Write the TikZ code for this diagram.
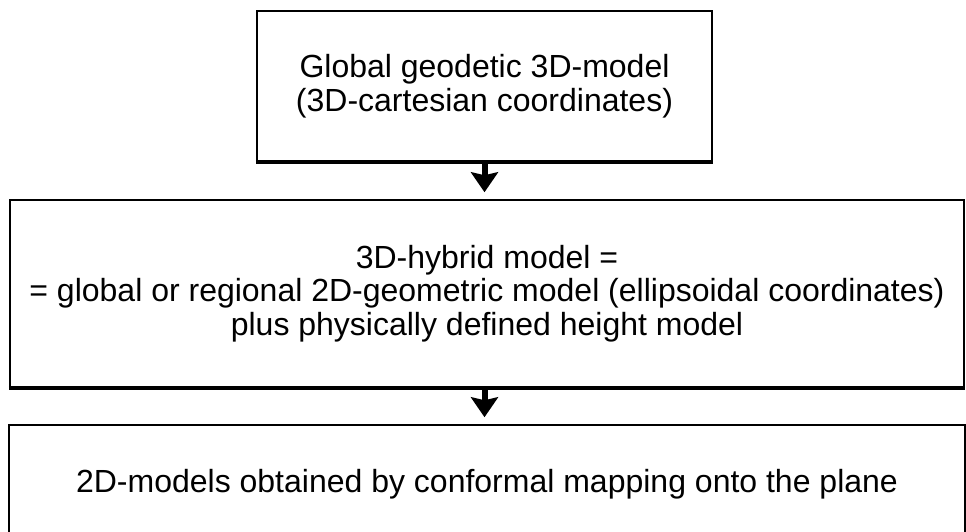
\documentclass[tikz,border=0pt]{standalone}
\usepackage{fontspec}
\setmainfont{Liberation Sans}
\usetikzlibrary{arrows.meta,positioning}

\tikzset{
  stage/.style={draw, line width=2.5pt, inner sep=0pt, align=center,
    font=\fontsize{32pt}{33.5pt}\selectfont},
  flow/.style={line width=6pt, -{Stealth[width=27pt,length=20pt,inset=3pt]},
    shorten >=6.5pt},
}

\begin{document}
\begin{tikzpicture}[x=1pt,y=-1pt]
  \useasboundingbox (0,0) rectangle (966,532);

  \node (glob) [stage, minimum width=455pt, minimum height=150pt] at (484.5,86)
    {Global geodetic 3D-model\\(3D-cartesian coordinates)};
  \node (hyb) [stage, minimum width=954pt, minimum height=187pt] at (487,293.5)
    {3D-hybrid model =\\= global or regional 2D-geometric model (ellipsoidal coordinates)\\plus physically defined height model};
  \node (plane) [stage, minimum width=956pt, minimum height=118pt] at (487,484)
    {2D-models obtained by conformal mapping onto the plane};

  % heavier lower edges
  \draw[line width=4pt] ([yshift=0.75pt]glob.south west) -- ([yshift=0.75pt]glob.south east);
  \draw[line width=4pt] ([yshift=0.75pt]hyb.south west) -- ([yshift=0.75pt]hyb.south east);

  \draw[flow] (glob.south) -- (glob.south |- hyb.north);
  \draw[flow] (glob.south |- hyb.south) -- (glob.south |- plane.north);
\end{tikzpicture}
\end{document}
